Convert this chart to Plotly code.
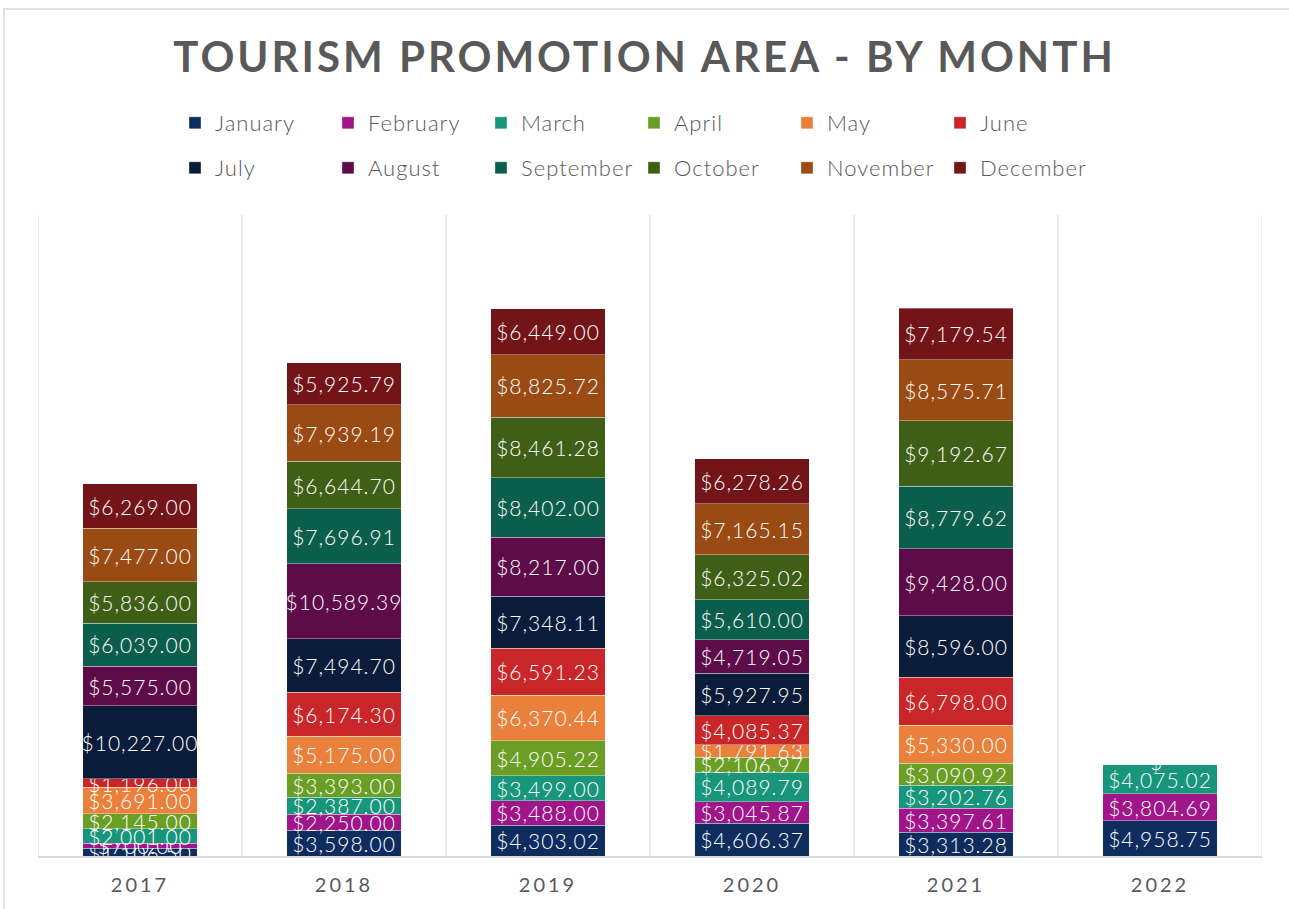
import plotly.graph_objects as go

years = ["2017", "2018", "2019", "2020", "2021", "2022"]
months = ["January", "February", "March", "April", "May", "June",
          "July", "August", "September", "October", "November", "December"]

january = [1106.50, 3598.00, 4303.02, 4606.37, 3313.28, 4958.75]
february = [700.00, 2250.00, 3488.00, 3045.87, 3397.61, 3804.69]
march = [2001.00, 2387.00, 3499.00, 4089.79, 3202.76, 4075.02]
april = [2145.00, 3393.00, 4905.22, 2106.97, 3090.92, 0]
may = [3691.00, 5175.00, 6370.44, 1791.63, 5330.00, 0]
june = [1196.00, 6174.30, 6591.23, 4085.37, 6798.00, 0]
july = [10227.00, 7494.70, 7348.11, 5927.95, 8596.00, 0]
august = [5575.00, 10589.39, 8217.00, 4719.05, 9428.00, 0]
september = [6039.00, 7696.91, 8402.00, 5610.00, 8779.62, 0]
october = [5836.00, 6644.70, 8461.28, 6325.02, 9192.67, 0]
november = [7477.00, 7939.19, 8825.72, 7165.15, 8575.71, 0]
december = [6269.00, 5925.79, 6449.00, 6278.26, 7179.54, 0]

series = [january, february, march, april, may, june,
          july, august, september, october, november, december]

colors = ["#0E2D5E", "#A0158A", "#17967B", "#6A9E24", "#E9803B", "#C9262A",
          "#0B1C3A", "#5E0B4A", "#0C5E4C", "#3F5E16", "#9A4A13", "#731518"]

LABEL_FONT = dict(color="white", size=21, family="Lato", weight=300)
GRAY = "#595959"


def money(v):
    return f'<span style="letter-spacing:1px">${v:,.2f}</span>'


fig = go.Figure()
legend_layouts = {}
for i, (name, vals) in enumerate(zip(months, series)):
    key = "legend" if i == 0 else f"legend{i + 1}"
    fig.add_trace(go.Bar(
        x=years, y=vals,
        name=f'<span style="letter-spacing:1px">{name}</span>',
        marker=dict(color=colors[i], line=dict(color="rgba(255,255,255,0.45)", width=0.8)),
        text=[money(v) if v else "" for v in vals],
        textposition="inside", insidetextanchor="middle",
        textfont=LABEL_FONT,
        constraintext="none",
        legend=key,
        showlegend=True,
        hoverinfo="skip",
    ))
    col, row = i % 6, i // 6
    legend_layouts[key] = dict(
        orientation="h",
        x=(175 + col * 153 - 38) / 1224, xanchor="left",
        y=(856 - (123 + row * 45)) / 641, yanchor="middle",
        font=dict(family="Lato", size=22, color=GRAY, weight=300),
        bgcolor="rgba(0,0,0,0)", borderwidth=0, visible=True,
    )

# Zero-value label for 2022 (Excel shows "$-" at the top of the stack)
totals = [sum(s[j] for s in series) for j in range(len(years))]
zero_x = [y for j, y in enumerate(years) if any(s[j] == 0 for s in series)]
zero_y = [totals[j] for j, y in enumerate(years) if any(s[j] == 0 for s in series)]
fig.add_trace(go.Scatter(
    x=zero_x, y=zero_y, mode="text", text=["$-"] * len(zero_x),
    textposition="middle center", textfont=LABEL_FONT,
    showlegend=False, hoverinfo="skip", cliponaxis=False,
))

shapes = []
for k in range(len(years) + 1):
    shapes.append(dict(type="line", xref="x", yref="paper", x0=k - 0.5, x1=k - 0.5,
                       y0=0, y1=1, line=dict(color="#D9D9D9", width=1), layer="below"))
# chart border
shapes.append(dict(type="rect", xref="paper", yref="paper",
                   x0=(4 - 38) / 1224, x1=(1300 - 38) / 1224,
                   y0=(856 - 920) / 641, y1=(856 - 9) / 641,
                   line=dict(color="#D9D9D9", width=1.5), fillcolor="rgba(0,0,0,0)", layer="below"))

fig.update_layout(
    width=1289, height=909,
    showlegend=True,
    barmode="stack", bargap=0.44,
    paper_bgcolor="white", plot_bgcolor="white",
    margin=dict(l=38, r=27, t=215, b=53, autoexpand=False),
    title=dict(text='<span style="letter-spacing:3px">TOURISM PROMOTION AREA - BY MONTH</span>',
               x=0.5, xanchor="center",
               y=1 - 57 / 909, yanchor="middle",
               font=dict(family="Lato", size=42, color=GRAY, weight="bold")),
    uniformtext=dict(minsize=21, mode="show"),
    xaxis=dict(showgrid=False, showline=True, linecolor="#D9D9D9", linewidth=2,
               tickmode="array", tickvals=years,
               ticktext=[f'<span style="letter-spacing:3px">{y}</span>' for y in years],
               tickfont=dict(family="Lato", size=20, color=GRAY), ticks="",
               ticklabelstandoff=10, range=[-0.5, 5.5]),
    yaxis=dict(range=[0, 90000], showgrid=False, showticklabels=False, zeroline=False,
               showline=False),
    shapes=shapes,
    **legend_layouts,
)

fig.write_html("out.html", config={"displayModeBar": False},
               post_script="document.body.style.margin='0';document.body.style.overflow='hidden';")
